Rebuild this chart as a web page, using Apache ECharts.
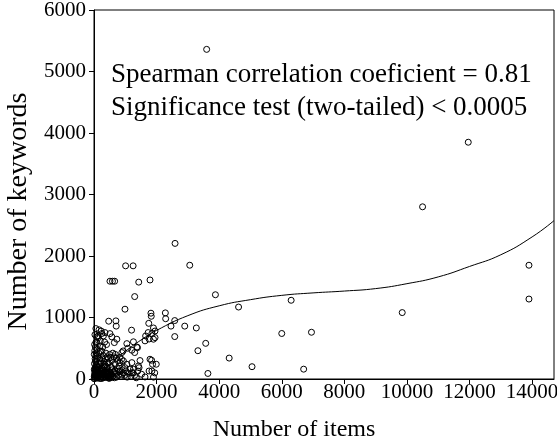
<!DOCTYPE html>
<html>
<head>
<meta charset="utf-8">
<script src="https://cdn.jsdelivr.net/npm/echarts@6/dist/echarts.min.js"></script>
<style>
  html, body { margin: 0; padding: 0; background: #fff; }
  #chart { width: 557px; height: 443px; }
</style>
</head>
<body>
<div id="chart"></div>
<script>
// items / keywords per point
const itemsOuter = [3600, 11960, 10500, 13900, 13900, 9850, 6300, 6000, 6950, 4620, 5050, 6700, 4320, 3640, 3880, 3570, 3320, 3270, 2900, 2580, 2580, 2460, 2280, 2290, 2590, 3060]
const keywordsOuter = [5360, 3850, 2800, 1850, 1300, 1080, 1280, 740, 760, 1170, 200, 160, 340, 90, 1370, 580, 460, 830, 860, 950, 690, 860, 1075, 980, 2205, 1850]

const itemsMid = [1010, 1250, 510, 590, 660, 1430, 1790, 1300, 990, 1820, 1830, 1750, 1900, 1850, 1950, 1950, 1900, 1730, 1760, 470, 700, 710, 1200, 1650, 1630, 1050, 1260, 1080, 1210, 1370, 890, 930, 1300, 1390, 1470, 1210, 1050, 830, 940, 1790, 1870, 1840, 1990, 1420, 1260, 1400, 1850, 1440, 1520, 1900, 1630, 1940, 1760, 1210, 890, 780, 670, 570, 990]
const keywordsMid = [1840, 1840, 1590, 1590, 1590, 1575, 1610, 1340, 1135, 1070, 1020, 905, 830, 740, 780, 673, 647, 755, 650, 940, 945, 860, 794, 700, 620, 575, 605, 500, 468, 520, 430, 456, 430, 510, 300, 266, 240, 266, 293, 321, 240, 305, 240, 212, 158, 130, 130, 184, 77, 30, 33, 100, 130, 103, 77, 130, 130, 184, 184]

const itemsLow = [250, 350, 510, 570, 140, 650, 730, 90, 190, 300, 200, 100, 150, 250, 60, 120, 300, 400, 50, 200,
  20, 40, 60, 80, 100, 120, 30, 50, 70, 90, 110, 130, 150, 170, 190, 210, 230, 250, 270, 290, 310, 330, 350, 370, 390, 410, 430, 450, 470, 490,
  510, 530, 550, 570, 590, 610, 630, 650, 680, 700, 720, 750, 780, 800, 830, 860, 900, 940, 980, 1020, 1060, 1100, 1150, 1180, 1250, 1300, 1350,
  15, 35, 55, 75, 25, 45, 65, 85, 30, 20, 10, 40, 10, 15, 5, 140, 180, 220, 260, 320, 360, 380, 420, 460, 500, 540, 600, 640, 680, 720, 760, 820, 880,
  200, 280, 340, 130, 230, 160, 60,
  10, 30, 50, 70, 90, 110, 130, 160, 190, 220, 250, 280, 310, 340, 370, 400, 430, 460, 490, 520,
  25, 45, 65, 95, 125, 155, 185, 215, 245, 275, 305, 335, 365, 395, 425, 455, 485, 515, 545, 575]
const keywordsLow = [740, 755, 738, 685, 673, 592, 647, 592, 538, 700, 620, 480, 420, 450, 380, 350, 380, 560, 300, 300,
  10, 30, 15, 50, 20, 70, 90, 120, 160, 200, 140, 30, 90, 10, 60, 120, 40, 180, 90, 20, 140, 60, 230, 100, 30, 170, 80, 260, 40, 120,
  20, 200, 80, 300, 150, 50, 110, 20, 240, 90, 30, 170, 60, 210, 120, 40, 150, 100, 60, 130, 30, 90, 160, 40, 100, 60, 20,
  250, 330, 280, 420, 460, 520, 600, 680, 720, 560, 400, 180, 150, 60, 5, 250, 330, 260, 330, 280, 330, 420, 360, 330, 400, 350, 420, 360, 400, 340, 300, 350, 320,
  450, 520, 600, 700, 780, 800, 820,
  40, 110, 60, 140, 90, 20, 180, 50, 130, 80, 10, 150, 70, 200, 30, 110, 60, 20, 90, 40,
  170, 60, 220, 110, 40, 190, 100, 10, 150, 70, 210, 30, 130, 80, 190, 50, 10, 110, 60, 30]

// fitted curve
const fitItems = [0, 500, 1000, 1500, 2000, 3000, 4000, 5000, 6000, 7000, 8000, 9000, 10000, 11000, 12000, 13000, 14000, 14700]
const fitKeywords = [0, 240, 450, 633, 790, 1030, 1190, 1290, 1360, 1400, 1430, 1470, 1550, 1660, 1830, 2020, 2310, 2575]

const textLines = ['Spearman correlation coeficient = 0.81', 'Significance test (two-tailed) < 0.0005']

const pairs = (xs, ys) => xs.map((x, i) => [x, ys[i]])
const points = [].concat(pairs(itemsOuter, keywordsOuter), pairs(itemsMid, keywordsMid), pairs(itemsLow, keywordsLow))

const serif = '"Liberation Serif", "Times New Roman", serif'
const myChart = echarts.init(document.getElementById('chart'))

const option = {
  animation: false,
  backgroundColor: '#fff',
  grid: {
    left: 94,
    right: 3,
    top: 10,
    bottom: 64,
    outerBoundsMode: 'none',
    containLabel: false,
    show: true,
    borderColor: '#000',
    borderWidth: 1
  },
  xAxis: {
    type: 'value',
    min: 0,
    max: 14700,
    interval: 2000,
    name: 'Number of items',
    nameLocation: 'middle',
    nameGap: 39,
    nameTextStyle: { fontFamily: serif, fontSize: 24, color: '#000', padding: [0, 60, 0, 0] },
    axisLine: { show: true, lineStyle: { color: '#000', width: 1 } },
    axisTick: { show: true, length: 5, lineStyle: { color: '#000' } },
    axisLabel: { fontFamily: serif, fontSize: 21, color: '#000', margin: 3, showMaxLabel: false, formatter: (v) => String(v) },
    splitLine: { show: false }
  },
  yAxis: {
    type: 'value',
    min: 0,
    max: 6000,
    interval: 1000,
    name: 'Number of keywords',
    nameLocation: 'middle',
    nameGap: 56,
    nameTextStyle: { fontFamily: serif, fontSize: 28, color: '#000', padding: [0, 34, 0, 0] },
    axisLine: { show: true, lineStyle: { color: '#000', width: 1 } },
    axisTick: { show: true, length: 5, lineStyle: { color: '#000' } },
    axisLabel: { fontFamily: serif, fontSize: 21, color: '#000', margin: 8, formatter: (v) => String(v) },
    splitLine: { show: false }
  },
  graphic: textLines.map((t, i) => ({
    type: 'text',
    left: 111,
    top: 61 + i * 33,
    style: { text: t, font: '27px ' + serif, fill: '#000' }
  })),
  series: [
    {
      type: 'scatter',
      data: points,
      symbol: 'circle',
      symbolSize: 6,
      itemStyle: { color: 'rgba(0,0,0,0)', borderColor: '#000', borderWidth: 1, opacity: 1 },
      z: 3
    },
    {
      type: 'line',
      data: pairs(fitItems, fitKeywords),
      smooth: true,
      showSymbol: false,
      lineStyle: { color: '#000', width: 1 },
      z: 2
    }
  ]
}
myChart.setOption(option)
window.addEventListener('resize', () => {
  myChart.resize()
})
</script>
</body>
</html>
